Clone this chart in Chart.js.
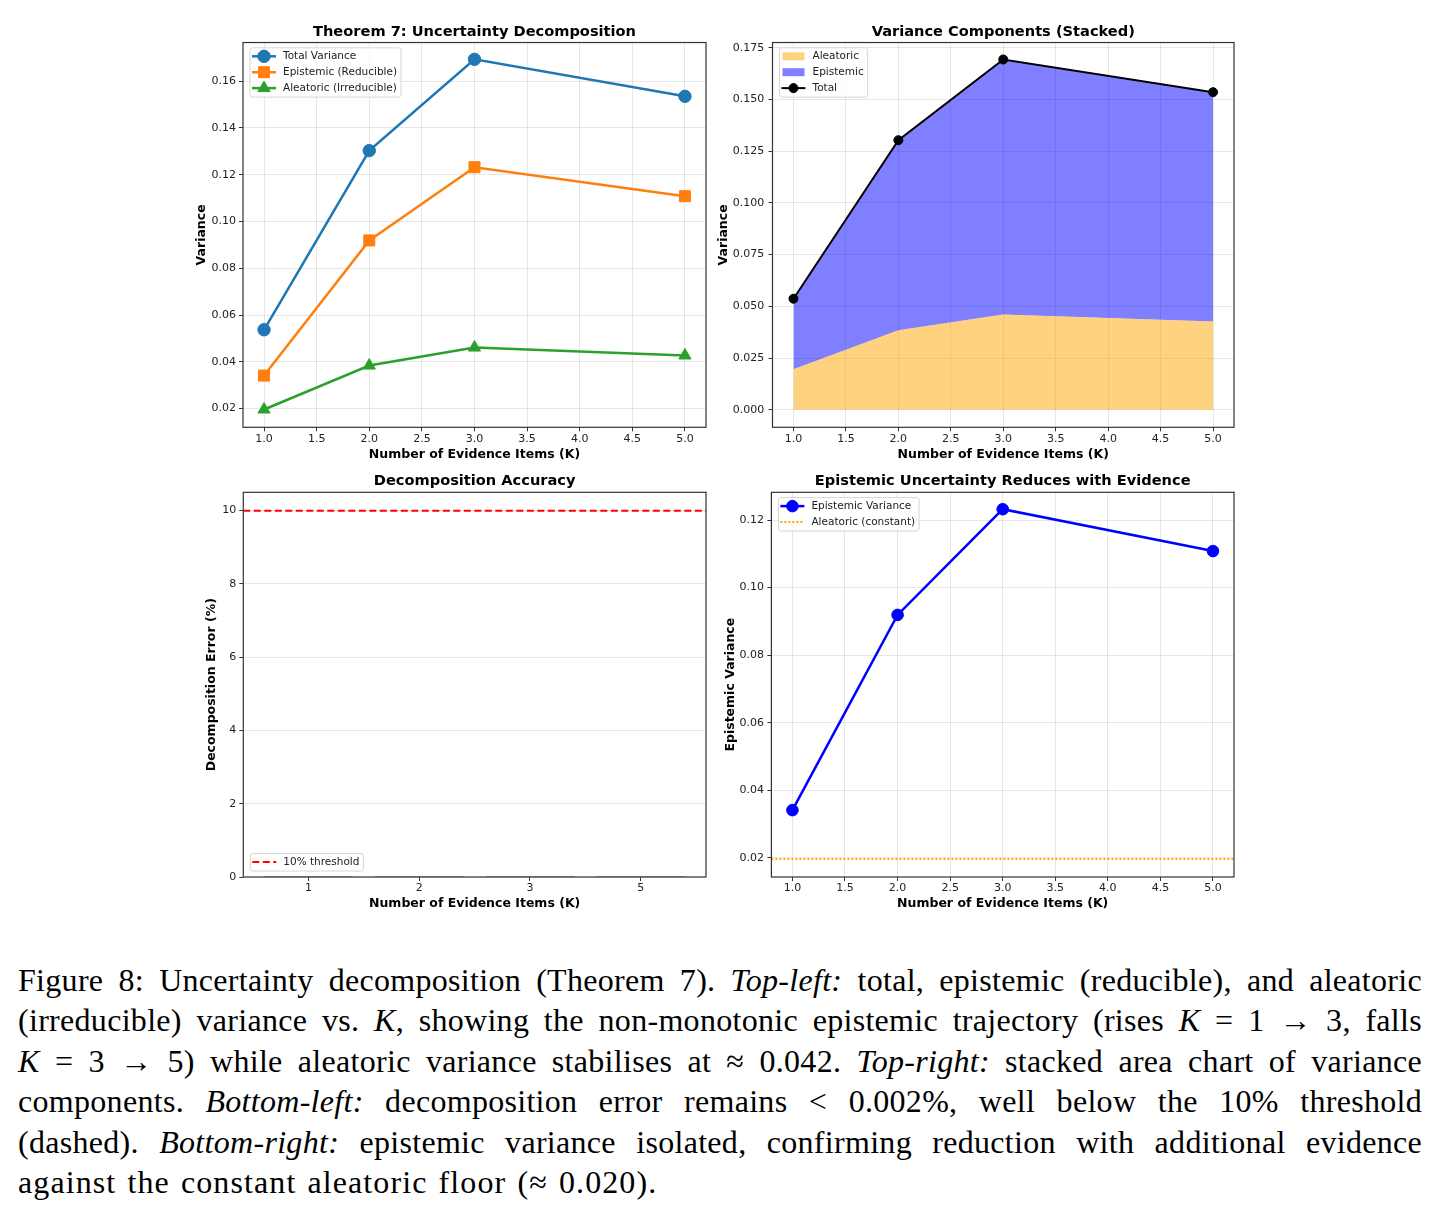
<!DOCTYPE html>
<html>
<head>
<meta charset="utf-8">
<script src="https://cdn.jsdelivr.net/npm/chart.js@4.4.1/dist/chart.umd.min.js"></script>
<style>
body { margin: 0; background: #fff; width: 1438px; height: 1215px; position: relative; overflow: hidden; }
canvas { position: absolute; }
#caption { position: absolute; left: 18px; top: 960px; width: 1404px; font-family: "Liberation Serif", serif; font-size: 32px; letter-spacing: 0.3px; line-height: 40.4px; color: #000; }
#caption div { white-space: nowrap; }
#caption span.ln { display: inline-block; }
#caption span.last { letter-spacing: 1.1px; word-spacing: 2px; }
</style>
</head>
<body>
<canvas id="tl" width="530" height="457" style="left:190px;top:15px"></canvas>
<canvas id="tr" width="535" height="457" style="left:710px;top:15px"></canvas>
<canvas id="bl" width="530" height="450" style="left:190px;top:470px"></canvas>
<canvas id="br" width="535" height="450" style="left:710px;top:470px"></canvas>
<div id="caption">
<div class="fit"><span class="ln">Figure 8: Uncertainty decomposition (Theorem 7). <i>Top-left:</i> total, epistemic (reducible), and aleatoric</span></div>
<div class="fit"><span class="ln">(irreducible) variance vs. <i>K</i>, showing the non-monotonic epistemic trajectory (rises <i>K</i> = 1 → 3, falls</span></div>
<div class="fit"><span class="ln"><i>K</i> = 3 → 5) while aleatoric variance stabilises at ≈ 0.042. <i>Top-right:</i> stacked area chart of variance</span></div>
<div class="fit"><span class="ln">components. <i>Bottom-left:</i> decomposition error remains &lt; 0.002%, well below the 10% threshold</span></div>
<div class="fit"><span class="ln">(dashed). <i>Bottom-right:</i> epistemic variance isolated, confirming reduction with additional evidence</span></div>
<div><span class="ln last">against the constant aleatoric floor (≈ 0.020).</span></div>
</div>
<script>
// values
const kValues = [1, 2, 3, 5];
const kLabels = ['1', '2', '3', '5'];
const totalVar = [0.0537, 0.1303, 0.1693, 0.1535];
const epistemicVar = [0.0341, 0.0919, 0.1232, 0.1108];
const aleatoricVar = [0.0196, 0.0384, 0.0461, 0.0427];
const decompError = [0.0011, 0.0016, 0.0018, 0.0014]; // %, too small to see
const errorThreshold = 10;
const aleatoricFloor = 0.0196;

const kTicks = [1, 1.5, 2, 2.5, 3, 3.5, 4, 4.5, 5];
const tlTicks = [0.02, 0.04, 0.06, 0.08, 0.10, 0.12, 0.14, 0.16];
const trTicks = [0, 0.025, 0.05, 0.075, 0.1, 0.125, 0.15, 0.175];
const blTicks = [0, 2, 4, 6, 8, 10];
const brTicks = [0.02, 0.04, 0.06, 0.08, 0.10, 0.12];

// justify each caption line to the full width, like LaTeX does
document.querySelectorAll('#caption div.fit span.ln').forEach(sp => {
	const spaces = (sp.textContent.match(/ /g) || []).length;
	const extra = (1404 - sp.getBoundingClientRect().width) / spaces;
	sp.style.wordSpacing = extra + 'px';
});

Chart.defaults.font.family = 'DejaVu Sans';
Chart.defaults.color = '#222';

const pts = arr => kValues.map((k, i) => ({ x: k, y: arr[i] }));

const framePlugin = {
	id: 'frame',
	afterDatasetsDraw(chart) {
		const { ctx, chartArea: a } = chart;
		ctx.save();
		ctx.strokeStyle = '#333';
		ctx.lineWidth = 1.2;
		ctx.strokeRect(a.left, a.top, a.right - a.left, a.bottom - a.top);
		ctx.restore();
	}
};

const hlinePlugin = {
	id: 'hlines',
	beforeDatasetsDraw(chart, args, o) {
		if (!o.lines) return;
		const { ctx, chartArea: a } = chart;
		o.lines.forEach(l => {
			const y = chart.scales.y.getPixelForValue(l.value);
			ctx.save();
			ctx.strokeStyle = l.color;
			ctx.lineWidth = l.lw;
			ctx.setLineDash(l.dash);
			ctx.beginPath();
			ctx.moveTo(a.left, y);
			ctx.lineTo(a.right, y);
			ctx.stroke();
			ctx.restore();
		});
	}
};

const legendPlugin = {
	id: 'mplLegend',
	afterDraw(chart, args, o) {
		if (!o.items) return;
		const { ctx, chartArea: a } = chart;
		ctx.save();
		ctx.font = '10.5px "DejaVu Sans"';
		const tw = Math.max(...o.items.map(it => ctx.measureText(it.label).width));
		const rowH = 15.9;
		const w = 33 + tw + 4;
		const h = 8.5 + (o.items.length - 1) * rowH + 9;
		const x = a.left + 7;
		const y = o.loc === 'lower left' ? a.bottom - 6 - h : a.top + 5.3;
		ctx.beginPath();
		ctx.roundRect(x, y, w, h, 2.5);
		ctx.fillStyle = 'rgba(255,255,255,0.8)';
		ctx.fill();
		ctx.strokeStyle = '#d6d6d6';
		ctx.lineWidth = 1;
		ctx.stroke();
		o.items.forEach((it, i) => {
			const cy = y + 8.5 + i * rowH;
			const hx = x + 2;
			if (it.patch) {
				ctx.fillStyle = it.patch;
				ctx.fillRect(hx + 1, cy - 4, 22, 8);
			} else {
				ctx.beginPath();
				ctx.setLineDash(it.dash || []);
				ctx.strokeStyle = it.color;
				ctx.lineWidth = it.lw;
				ctx.moveTo(hx, cy);
				ctx.lineTo(hx + 24, cy);
				ctx.stroke();
				ctx.setLineDash([]);
				if (it.marker) {
					ctx.fillStyle = it.color;
					ctx.strokeStyle = it.color;
					ctx.lineWidth = 1;
					Chart.helpers.drawPoint(ctx, { pointStyle: it.marker, radius: it.r, rotation: 0, borderWidth: 1 }, hx + 12, cy);
				}
			}
			ctx.fillStyle = '#222';
			ctx.textBaseline = 'middle';
			ctx.textAlign = 'left';
			ctx.fillText(it.label, hx + 31, cy);
		});
		ctx.restore();
	}
};

function axis(c) {
	return {
		type: 'linear',
		min: c.min,
		max: c.max,
		stacked: c.stacked || false,
		offset: false,
		afterBuildTicks: s => { s.ticks = c.ticks.map(v => ({ value: v })); },
		afterFit: s => { if (c.width) s.width = c.width; if (c.height) s.height = c.height; },
		ticks: { callback: c.fmt, padding: c.tickPad, font: { size: 11 }, color: '#222', maxRotation: 0, autoSkip: false },
		grid: { color: 'rgba(176,176,176,0.3)', drawOnChartArea: c.grid !== false, drawTicks: true, tickLength: 4, tickColor: '#333', tickWidth: 1, offset: false },
		border: { display: false },
		title: { display: true, text: c.title, font: { size: 12.5, weight: 'bold' }, color: '#000', padding: c.titlePad }
	};
}

function makeChart(id, c) {
	return new Chart(document.getElementById(id), {
		type: c.type || 'line',
		data: { datasets: c.datasets },
		plugins: [hlinePlugin, framePlugin, legendPlugin],
		options: {
			responsive: false,
			animation: false,
			devicePixelRatio: 1,
			layout: { padding: { left: 0, right: c.padRight, top: 0, bottom: 0 } },
			elements: { line: { tension: 0 } },
			plugins: {
				legend: { display: false },
				tooltip: { enabled: false },
				title: { display: true, text: c.title, fullSize: false, color: '#000', font: { size: 14.6, weight: 'bold' }, padding: c.titlePad },
				hlines: { lines: c.hlines },
				mplLegend: c.legend
			},
			scales: { x: c.x, y: c.y }
		}
	});
}

const f1 = v => v.toFixed(1);
const f2 = v => v.toFixed(2);
const f3 = v => v.toFixed(3);
const xTitle = 'Number of Evidence Items (K)';

// top-left
makeChart('tl', {
	title: 'Theorem 7: Uncertainty Decomposition',
	titlePad: { top: 8.5, bottom: 1.5 },
	padRight: 14,
	x: axis({ min: 0.8, max: 5.2, ticks: kTicks, fmt: f1, height: 44.7, tickPad: 1.4, title: xTitle, titlePad: { top: 0, bottom: 9.5 } }),
	y: axis({ min: 0.012, max: 0.1765, ticks: tlTicks, fmt: f2, width: 53, tickPad: 3, title: 'Variance', titlePad: { top: 4.5, bottom: 0 } }),
	datasets: [
		{ data: pts(totalVar), borderColor: '#1f77b4', backgroundColor: '#1f77b4', borderWidth: 2.5, pointStyle: 'circle', pointRadius: 6.2, pointBorderWidth: 1 },
		{ data: pts(epistemicVar), borderColor: '#ff7f0e', backgroundColor: '#ff7f0e', borderWidth: 2.5, pointStyle: 'rect', pointRadius: 7.8, pointBorderWidth: 1 },
		{ data: pts(aleatoricVar), borderColor: '#2ca02c', backgroundColor: '#2ca02c', borderWidth: 2.5, pointStyle: 'triangle', pointRadius: 7, pointBorderWidth: 1 }
	],
	legend: { loc: 'upper left', items: [
		{ label: 'Total Variance', color: '#1f77b4', lw: 2.5, marker: 'circle', r: 6.2 },
		{ label: 'Epistemic (Reducible)', color: '#ff7f0e', lw: 2.5, marker: 'rect', r: 7.8 },
		{ label: 'Aleatoric (Irreducible)', color: '#2ca02c', lw: 2.5, marker: 'triangle', r: 7 }
	] }
});

// top-right
makeChart('tr', {
	title: 'Variance Components (Stacked)',
	titlePad: { top: 8.5, bottom: 1.5 },
	padRight: 11,
	x: axis({ min: 0.8, max: 5.2, ticks: kTicks, fmt: f1, height: 44.7, tickPad: 1.4, title: xTitle, titlePad: { top: 0, bottom: 9.5 } }),
	y: axis({ min: -0.00845, max: 0.1775, ticks: trTicks, fmt: f3, width: 62.5, tickPad: 4.3, stacked: true, title: 'Variance', titlePad: { top: 6.1, bottom: 0 } }),
	datasets: [
		{ data: pts(aleatoricVar), stack: 'area', order: 0, borderWidth: 0, borderColor: 'rgba(255,165,0,0.5)', backgroundColor: 'rgba(255,165,0,0.5)', fill: 'origin', pointRadius: 0 },
		{ data: pts(epistemicVar), stack: 'area', order: 1, borderWidth: 0, borderColor: 'rgba(0,0,255,0.5)', backgroundColor: 'rgba(0,0,255,0.5)', fill: '-1', pointRadius: 0 },
		{ data: pts(totalVar), stack: 'total', order: -1, borderColor: '#000', backgroundColor: '#000', borderWidth: 2, pointStyle: 'circle', pointRadius: 4.5, pointBorderWidth: 1, fill: false }
	],
	legend: { loc: 'upper left', items: [
		{ label: 'Aleatoric', patch: 'rgba(255,165,0,0.5)' },
		{ label: 'Epistemic', patch: 'rgba(0,0,255,0.5)' },
		{ label: 'Total', color: '#000', lw: 2, marker: 'circle', r: 4.5 }
	] }
});

// bottom-left
makeChart('bl', {
	type: 'bar',
	title: 'Decomposition Accuracy',
	titlePad: { top: 2.3, bottom: 2.5 },
	padRight: 14,
	x: axis({ min: -0.59, max: 3.59, ticks: [0, 1, 2, 3], fmt: v => kLabels[v], height: 43, tickPad: 0.7, grid: false, title: xTitle, titlePad: { top: 0, bottom: 8.8 } }),
	y: axis({ min: 0, max: 10.5, ticks: blTicks, fmt: v => String(v), width: 53.3, tickPad: 3, title: 'Decomposition Error (%)', titlePad: { top: 14.5, bottom: 0 } }),
	datasets: [
		{ data: kLabels.map((k, i) => ({ x: i, y: decompError[i] })), backgroundColor: '#1f77b4', borderWidth: 0, categoryPercentage: 1, barPercentage: 0.8 }
	],
	hlines: [{ value: errorThreshold, color: '#ff0000', lw: 2, dash: [7, 3.5] }],
	legend: { loc: 'lower left', items: [
		{ label: '10% threshold', color: '#ff0000', lw: 2, dash: [7, 3.5] }
	] }
});

// bottom-right
makeChart('br', {
	title: 'Epistemic Uncertainty Reduces with Evidence',
	titlePad: { top: 2.3, bottom: 2.5 },
	padRight: 11,
	x: axis({ min: 0.8, max: 5.2, ticks: kTicks, fmt: f1, height: 43, tickPad: 0.7, title: xTitle, titlePad: { top: 0, bottom: 8.8 } }),
	y: axis({ min: 0.0143, max: 0.1282, ticks: brTicks, fmt: f2, width: 61.4, tickPad: 3.4, title: 'Epistemic Variance', titlePad: { top: 12.8, bottom: 0 } }),
	datasets: [
		{ data: pts(epistemicVar), borderColor: '#0000ff', backgroundColor: '#0000ff', borderWidth: 2.5, pointStyle: 'circle', pointRadius: 5.8, pointBorderWidth: 1 }
	],
	hlines: [{ value: aleatoricFloor, color: '#ffa500', lw: 2, dash: [2, 2] }],
	legend: { loc: 'upper left', items: [
		{ label: 'Epistemic Variance', color: '#0000ff', lw: 2.5, marker: 'circle', r: 5.8 },
		{ label: 'Aleatoric (constant)', color: '#ffa500', lw: 2, dash: [2, 2] }
	] }
});
</script>
</body>
</html>
